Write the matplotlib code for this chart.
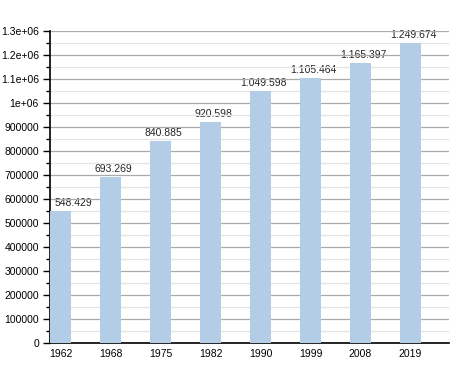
import matplotlib
matplotlib.use('Agg')
import matplotlib.pyplot as plt
from matplotlib.ticker import MultipleLocator

plt.rcParams['font.family'] = ['Liberation Sans', 'DejaVu Sans']

# 数据
years = ['1962', '1968', '1975', '1982', '1990', '1999', '2008', '2019']
population = [548429, 693269, 840885, 920598, 1049598, 1105464, 1165397, 1249674]
labels = ['548.429', '693.269', '840.885', '920.598', '1.049.598', '1.105.464', '1.165.397', '1.249.674']
yticklabels = ['0', '100000', '200000', '300000', '400000', '500000', '600000', '700000',
               '800000', '900000', '1e+06', '1.1e+06', '1.2e+06', '1.3e+06']

fig = plt.figure(figsize=(4.5, 3.73), dpi=100)
ax = fig.add_axes([50 / 450, 30 / 373, 399 / 450, 312 / 373])

x = list(range(len(years)))
ax.bar(x, population, width=0.42, color='#b3cde6', zorder=3)

ax.set_xlim(-0.21, 7.77)
ax.set_ylim(0, 1300000)

# 数值标签（在网格线下面），第一个被轴线挤到右边
for i, (xi, v, lab) in enumerate(zip(x, population, labels)):
    if i == 0:
        ax.text(-0.11, v + 12000, lab, ha='left', va='bottom', fontsize=7.5,
                color='#222222', zorder=0.5)
    else:
        ax.text(xi + 0.06, v + 12000, lab, ha='center', va='bottom', fontsize=7.5,
                color='#222222', zorder=0.5)

ax.set_xticks(x)
ax.set_xticklabels(years, fontsize=7.5)
ax.set_yticks(range(0, 1300001, 100000))
ax.set_yticklabels(yticklabels, fontsize=7.5)
ax.yaxis.set_minor_locator(MultipleLocator(50000))

# 网格线
ax.grid(axis='y', which='major', color='#aaaaaa', linewidth=0.9, zorder=1)
ax.grid(axis='y', which='minor', color='#e4e4e4', linewidth=0.9, zorder=1)

for s in ['top', 'right']:
    ax.spines[s].set_visible(False)
ax.spines['left'].set_linewidth(1.2)
ax.spines['bottom'].set_linewidth(1.2)
ax.tick_params(axis='x', length=0, pad=4)
ax.tick_params(axis='y', which='major', length=5, width=1, pad=3)
ax.tick_params(axis='y', which='minor', length=3, width=1)

fig.savefig('out.png', dpi=100)
